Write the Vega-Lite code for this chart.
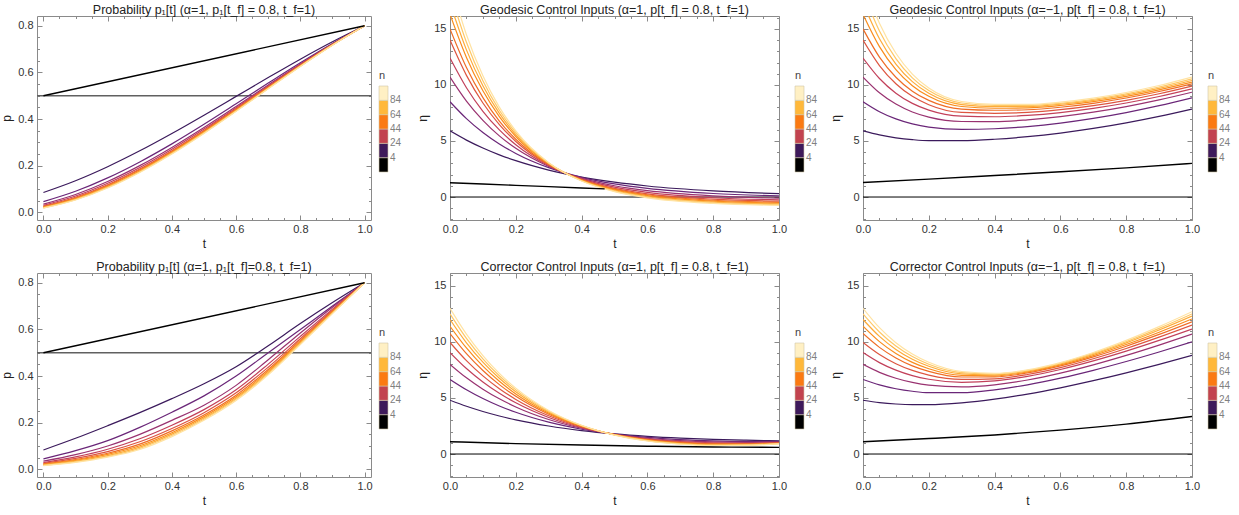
{
"$schema": "https://vega.github.io/schema/vega-lite/v6.json",
"padding": {"left": 0, "top": 3, "right": 5, "bottom": 5},
"config": {
 "font": "Liberation Sans",
 "view": {"stroke": "#8a8a8a", "strokeWidth": 1},
 "axis": {"domain": false, "tickColor": "#8a8a8a", "labelColor": "#333333", "labelFontSize": 11, "titleFontSize": 12, "titleFontWeight": "normal", "titleColor": "#222222", "grid": false, "labelOverlap": false, "labelFlush": false, "labelBound": false},
 "title": {"fontSize": 12.5, "fontWeight": "normal", "color": "#222222", "offset": -1},
 "legend": {"orient": "none", "type": "gradient", "direction": "vertical", "gradientLength": 86, "gradientThickness": 9, "labelFontSize": 10, "labelColor": "#808080", "titleFontSize": 11, "titleFontWeight": "normal", "titleColor": "#444444", "titlePadding": 5, "gradientStrokeColor": "#d0c8a8", "gradientStrokeWidth": 0.6, "labelOffset": 3}
},
"datasets": {
 "lg": [{"n":4},{"n":94}],
 "h1": [{"v":0.5}],
 "h0": [{"v":0}],
 "b1": [{"t":0,"v":0.5},{"t":1,"v":0.8}],
 "b2": [{"t":0,"v":1.28},{"t":0.1,"v":1.16},{"t":0.2,"v":1.04},{"t":0.3,"v":0.93},{"t":0.4,"v":0.81},{"t":0.47,"v":0.73}],
 "b3": [{"t":0,"v":1.3},{"t":0.2,"v":1.6},{"t":0.4,"v":1.92},{"t":0.6,"v":2.25},{"t":0.8,"v":2.6},{"t":1,"v":3.0}],
 "b5": [{"t":0,"v":1.1},{"t":0.2,"v":0.93},{"t":0.4,"v":0.8},{"t":0.6,"v":0.7},{"t":0.8,"v":0.63},{"t":1,"v":0.59}],
 "b6": [{"t":0,"v":1.1},{"t":0.2,"v":1.38},{"t":0.4,"v":1.7},{"t":0.6,"v":2.13},{"t":0.8,"v":2.67},{"t":1,"v":3.35}],
 "p1": [
{"n":4,"t":0,"v":0.085},{"n":4,"t":0.1,"v":0.1355},{"n":4,"t":0.2,"v":0.1956},{"n":4,"t":0.3,"v":0.2637},{"n":4,"t":0.4,"v":0.338},{"n":4,"t":0.5,"v":0.4165},{"n":4,"t":0.6,"v":0.4972},{"n":4,"t":0.7,"v":0.578},{"n":4,"t":0.8,"v":0.6568},{"n":4,"t":0.9,"v":0.7315},{"n":4,"t":1,"v":0.8},
{"n":14,"t":0,"v":0.046},{"n":14,"t":0.1,"v":0.0903},{"n":14,"t":0.2,"v":0.1476},{"n":14,"t":0.3,"v":0.2161},{"n":14,"t":0.4,"v":0.2935},{"n":14,"t":0.5,"v":0.3775},{"n":14,"t":0.6,"v":0.4654},{"n":14,"t":0.7,"v":0.5543},{"n":14,"t":0.8,"v":0.6416},{"n":14,"t":0.9,"v":0.7244},{"n":14,"t":1,"v":0.8},
{"n":24,"t":0,"v":0.035},{"n":24,"t":0.1,"v":0.0764},{"n":24,"t":0.2,"v":0.1321},{"n":24,"t":0.3,"v":0.2002},{"n":24,"t":0.4,"v":0.2784},{"n":24,"t":0.5,"v":0.364},{"n":24,"t":0.6,"v":0.4542},{"n":24,"t":0.7,"v":0.546},{"n":24,"t":0.8,"v":0.6362},{"n":24,"t":0.9,"v":0.7219},{"n":24,"t":1,"v":0.8},
{"n":34,"t":0,"v":0.03},{"n":34,"t":0.1,"v":0.0698},{"n":34,"t":0.2,"v":0.1246},{"n":34,"t":0.3,"v":0.1923},{"n":34,"t":0.4,"v":0.2708},{"n":34,"t":0.5,"v":0.3572},{"n":34,"t":0.6,"v":0.4486},{"n":34,"t":0.7,"v":0.5418},{"n":34,"t":0.8,"v":0.6335},{"n":34,"t":0.9,"v":0.7206},{"n":34,"t":1,"v":0.8},
{"n":44,"t":0,"v":0.026},{"n":44,"t":0.1,"v":0.0644},{"n":44,"t":0.2,"v":0.1182},{"n":44,"t":0.3,"v":0.1857},{"n":44,"t":0.4,"v":0.2644},{"n":44,"t":0.5,"v":0.3514},{"n":44,"t":0.6,"v":0.4438},{"n":44,"t":0.7,"v":0.5382},{"n":44,"t":0.8,"v":0.6312},{"n":44,"t":0.9,"v":0.7195},{"n":44,"t":1,"v":0.8},
{"n":54,"t":0,"v":0.024},{"n":54,"t":0.1,"v":0.0615},{"n":54,"t":0.2,"v":0.1149},{"n":54,"t":0.3,"v":0.1822},{"n":54,"t":0.4,"v":0.261},{"n":54,"t":0.5,"v":0.3484},{"n":54,"t":0.6,"v":0.4413},{"n":54,"t":0.7,"v":0.5363},{"n":54,"t":0.8,"v":0.6299},{"n":54,"t":0.9,"v":0.7189},{"n":54,"t":1,"v":0.8},
{"n":64,"t":0,"v":0.022},{"n":64,"t":0.1,"v":0.0587},{"n":64,"t":0.2,"v":0.1115},{"n":64,"t":0.3,"v":0.1786},{"n":64,"t":0.4,"v":0.2575},{"n":64,"t":0.5,"v":0.3452},{"n":64,"t":0.6,"v":0.4386},{"n":64,"t":0.7,"v":0.5342},{"n":64,"t":0.8,"v":0.6286},{"n":64,"t":0.9,"v":0.7183},{"n":64,"t":1,"v":0.8},
{"n":74,"t":0,"v":0.02},{"n":74,"t":0.1,"v":0.0558},{"n":74,"t":0.2,"v":0.1081},{"n":74,"t":0.3,"v":0.1749},{"n":74,"t":0.4,"v":0.2538},{"n":74,"t":0.5,"v":0.3419},{"n":74,"t":0.6,"v":0.4358},{"n":74,"t":0.7,"v":0.5322},{"n":74,"t":0.8,"v":0.6273},{"n":74,"t":0.9,"v":0.7177},{"n":74,"t":1,"v":0.8},
{"n":84,"t":0,"v":0.019},{"n":84,"t":0.1,"v":0.0543},{"n":84,"t":0.2,"v":0.1063},{"n":84,"t":0.3,"v":0.173},{"n":84,"t":0.4,"v":0.2519},{"n":84,"t":0.5,"v":0.3402},{"n":84,"t":0.6,"v":0.4344},{"n":84,"t":0.7,"v":0.5311},{"n":84,"t":0.8,"v":0.6266},{"n":84,"t":0.9,"v":0.7174},{"n":84,"t":1,"v":0.8},
{"n":94,"t":0,"v":0.018},{"n":94,"t":0.1,"v":0.0528},{"n":94,"t":0.2,"v":0.1044},{"n":94,"t":0.3,"v":0.171},{"n":94,"t":0.4,"v":0.25},{"n":94,"t":0.5,"v":0.3384},{"n":94,"t":0.6,"v":0.4329},{"n":94,"t":0.7,"v":0.53},{"n":94,"t":0.8,"v":0.6259},{"n":94,"t":0.9,"v":0.717},{"n":94,"t":1,"v":0.8}
 ],
 "p4": [
{"n":4,"t":0,"v":0.083},{"n":4,"t":0.1,"v":0.133},{"n":4,"t":0.2,"v":0.187},{"n":4,"t":0.3,"v":0.243},{"n":4,"t":0.4,"v":0.303},{"n":4,"t":0.5,"v":0.367},{"n":4,"t":0.6,"v":0.44},{"n":4,"t":0.7,"v":0.53},{"n":4,"t":0.8,"v":0.625},{"n":4,"t":0.9,"v":0.715},{"n":4,"t":1,"v":0.8},
{"n":14,"t":0,"v":0.045},{"n":14,"t":0.1,"v":0.08},{"n":14,"t":0.2,"v":0.123},{"n":14,"t":0.3,"v":0.18},{"n":14,"t":0.4,"v":0.245},{"n":14,"t":0.5,"v":0.315},{"n":14,"t":0.6,"v":0.4},{"n":14,"t":0.7,"v":0.5},{"n":14,"t":0.8,"v":0.6},{"n":14,"t":0.9,"v":0.7},{"n":14,"t":1,"v":0.8},
{"n":24,"t":0,"v":0.035},{"n":24,"t":0.1,"v":0.063},{"n":24,"t":0.2,"v":0.1},{"n":24,"t":0.3,"v":0.15},{"n":24,"t":0.4,"v":0.21},{"n":24,"t":0.5,"v":0.275},{"n":24,"t":0.6,"v":0.36},{"n":24,"t":0.7,"v":0.47},{"n":24,"t":0.8,"v":0.585},{"n":24,"t":0.9,"v":0.695},{"n":24,"t":1,"v":0.8},
{"n":34,"t":0,"v":0.029},{"n":34,"t":0.1,"v":0.053},{"n":34,"t":0.2,"v":0.086},{"n":34,"t":0.3,"v":0.131},{"n":34,"t":0.4,"v":0.189},{"n":34,"t":0.5,"v":0.256},{"n":34,"t":0.6,"v":0.341},{"n":34,"t":0.7,"v":0.451},{"n":34,"t":0.8,"v":0.57},{"n":34,"t":0.9,"v":0.687},{"n":34,"t":1,"v":0.8},
{"n":44,"t":0,"v":0.026},{"n":44,"t":0.1,"v":0.047},{"n":44,"t":0.2,"v":0.076},{"n":44,"t":0.3,"v":0.118},{"n":44,"t":0.4,"v":0.175},{"n":44,"t":0.5,"v":0.243},{"n":44,"t":0.6,"v":0.328},{"n":44,"t":0.7,"v":0.438},{"n":44,"t":0.8,"v":0.56},{"n":44,"t":0.9,"v":0.682},{"n":44,"t":1,"v":0.8},
{"n":54,"t":0,"v":0.023},{"n":54,"t":0.1,"v":0.042},{"n":54,"t":0.2,"v":0.069},{"n":54,"t":0.3,"v":0.108},{"n":54,"t":0.4,"v":0.165},{"n":54,"t":0.5,"v":0.233},{"n":54,"t":0.6,"v":0.318},{"n":54,"t":0.7,"v":0.428},{"n":54,"t":0.8,"v":0.553},{"n":54,"t":0.9,"v":0.678},{"n":54,"t":1,"v":0.8},
{"n":64,"t":0,"v":0.021},{"n":64,"t":0.1,"v":0.038},{"n":64,"t":0.2,"v":0.064},{"n":64,"t":0.3,"v":0.101},{"n":64,"t":0.4,"v":0.157},{"n":64,"t":0.5,"v":0.226},{"n":64,"t":0.6,"v":0.311},{"n":64,"t":0.7,"v":0.421},{"n":64,"t":0.8,"v":0.547},{"n":64,"t":0.9,"v":0.675},{"n":64,"t":1,"v":0.8},
{"n":74,"t":0,"v":0.019},{"n":74,"t":0.1,"v":0.035},{"n":74,"t":0.2,"v":0.059},{"n":74,"t":0.3,"v":0.095},{"n":74,"t":0.4,"v":0.151},{"n":74,"t":0.5,"v":0.22},{"n":74,"t":0.6,"v":0.305},{"n":74,"t":0.7,"v":0.415},{"n":74,"t":0.8,"v":0.543},{"n":74,"t":0.9,"v":0.672},{"n":74,"t":1,"v":0.8},
{"n":84,"t":0,"v":0.017},{"n":84,"t":0.1,"v":0.032},{"n":84,"t":0.2,"v":0.055},{"n":84,"t":0.3,"v":0.09},{"n":84,"t":0.4,"v":0.145},{"n":84,"t":0.5,"v":0.215},{"n":84,"t":0.6,"v":0.3},{"n":84,"t":0.7,"v":0.41},{"n":84,"t":0.8,"v":0.539},{"n":84,"t":0.9,"v":0.67},{"n":84,"t":1,"v":0.8},
{"n":94,"t":0,"v":0.016},{"n":94,"t":0.1,"v":0.03},{"n":94,"t":0.2,"v":0.052},{"n":94,"t":0.3,"v":0.085},{"n":94,"t":0.4,"v":0.14},{"n":94,"t":0.5,"v":0.21},{"n":94,"t":0.6,"v":0.295},{"n":94,"t":0.7,"v":0.405},{"n":94,"t":0.8,"v":0.535},{"n":94,"t":0.9,"v":0.668},{"n":94,"t":1,"v":0.8}
 ],
 "p2": [
{"n":4,"t":0,"v":5.9},{"n":4,"t":0.05,"v":5.079},{"n":4,"t":0.1,"v":4.373},{"n":4,"t":0.15,"v":3.764},{"n":4,"t":0.2,"v":3.241},{"n":4,"t":0.3,"v":2.403},{"n":4,"t":0.4,"v":1.782},{"n":4,"t":0.5,"v":1.322},{"n":4,"t":0.6,"v":0.981},{"n":4,"t":0.8,"v":0.542},{"n":4,"t":1,"v":0.3},
{"n":14,"t":0,"v":8.5},{"n":14,"t":0.05,"v":6.997},{"n":14,"t":0.1,"v":5.758},{"n":14,"t":0.15,"v":4.735},{"n":14,"t":0.2,"v":3.891},{"n":14,"t":0.3,"v":2.621},{"n":14,"t":0.4,"v":1.757},{"n":14,"t":0.5,"v":1.169},{"n":14,"t":0.6,"v":0.769},{"n":14,"t":0.8,"v":0.312},{"n":14,"t":1,"v":0.1},
{"n":24,"t":0,"v":10.7},{"n":24,"t":0.05,"v":8.561},{"n":24,"t":0.1,"v":6.841},{"n":24,"t":0.15,"v":5.456},{"n":24,"t":0.2,"v":4.344},{"n":24,"t":0.3,"v":2.727},{"n":24,"t":0.4,"v":1.68},{"n":24,"t":0.5,"v":1.003},{"n":24,"t":0.6,"v":0.564},{"n":24,"t":0.8,"v":0.097},{"n":24,"t":1,"v":-0.099},
{"n":34,"t":0,"v":12.4},{"n":34,"t":0.05,"v":9.751},{"n":34,"t":0.1,"v":7.651},{"n":34,"t":0.15,"v":5.986},{"n":34,"t":0.2,"v":4.668},{"n":34,"t":0.3,"v":2.793},{"n":34,"t":0.4,"v":1.617},{"n":34,"t":0.5,"v":0.877},{"n":34,"t":0.6,"v":0.412},{"n":34,"t":0.8,"v":-0.063},{"n":34,"t":1,"v":-0.25},
{"n":44,"t":0,"v":14.0},{"n":44,"t":0.05,"v":10.854},{"n":44,"t":0.1,"v":8.391},{"n":44,"t":0.15,"v":6.464},{"n":44,"t":0.2,"v":4.956},{"n":44,"t":0.3,"v":2.851},{"n":44,"t":0.4,"v":1.562},{"n":44,"t":0.5,"v":0.771},{"n":44,"t":0.6,"v":0.288},{"n":44,"t":0.8,"v":-0.191},{"n":44,"t":1,"v":-0.37},
{"n":54,"t":0,"v":15.0},{"n":54,"t":0.05,"v":11.555},{"n":54,"t":0.1,"v":8.871},{"n":54,"t":0.15,"v":6.782},{"n":54,"t":0.2,"v":5.155},{"n":54,"t":0.3,"v":2.9},{"n":54,"t":0.4,"v":1.532},{"n":54,"t":0.5,"v":0.704},{"n":54,"t":0.6,"v":0.201},{"n":54,"t":0.8,"v":-0.29},{"n":54,"t":1,"v":-0.47},
{"n":64,"t":0,"v":16.3},{"n":64,"t":0.05,"v":12.453},{"n":64,"t":0.1,"v":9.478},{"n":64,"t":0.15,"v":7.18},{"n":64,"t":0.2,"v":5.402},{"n":64,"t":0.3,"v":2.967},{"n":64,"t":0.4,"v":1.513},{"n":64,"t":0.5,"v":0.643},{"n":64,"t":0.6,"v":0.123},{"n":64,"t":0.8,"v":-0.373},{"n":64,"t":1,"v":-0.55},
{"n":74,"t":0,"v":17.3},{"n":74,"t":0.05,"v":13.128},{"n":74,"t":0.1,"v":9.922},{"n":74,"t":0.15,"v":7.458},{"n":74,"t":0.2,"v":5.565},{"n":74,"t":0.3,"v":2.994},{"n":74,"t":0.4,"v":1.476},{"n":74,"t":0.5,"v":0.579},{"n":74,"t":0.6,"v":0.049},{"n":74,"t":0.8,"v":-0.447},{"n":74,"t":1,"v":-0.62},
{"n":84,"t":0,"v":18.3},{"n":84,"t":0.05,"v":13.802},{"n":84,"t":0.1,"v":10.366},{"n":84,"t":0.15,"v":7.741},{"n":84,"t":0.2,"v":5.735},{"n":84,"t":0.3,"v":3.029},{"n":84,"t":0.4,"v":1.449},{"n":84,"t":0.5,"v":0.528},{"n":84,"t":0.6,"v":-0.012},{"n":84,"t":0.8,"v":-0.509},{"n":84,"t":1,"v":-0.679},
{"n":94,"t":0,"v":19.3},{"n":94,"t":0.05,"v":14.479},{"n":94,"t":0.1,"v":10.811},{"n":94,"t":0.15,"v":8.024},{"n":94,"t":0.2,"v":5.903},{"n":94,"t":0.3,"v":3.066},{"n":94,"t":0.4,"v":1.426},{"n":94,"t":0.5,"v":0.478},{"n":94,"t":0.6,"v":-0.071},{"n":94,"t":0.8,"v":-0.571},{"n":94,"t":1,"v":-0.738}
 ],
 "p3": [
{"n":4,"t":0,"v":5.9},{"n":4,"t":0.05,"v":5.539},{"n":4,"t":0.1,"v":5.284},{"n":4,"t":0.15,"v":5.118},{"n":4,"t":0.2,"v":5.029},{"n":4,"t":0.3,"v":5.033},{"n":4,"t":0.4,"v":5.156},{"n":4,"t":0.5,"v":5.383},{"n":4,"t":0.6,"v":5.705},{"n":4,"t":0.7,"v":6.117},{"n":4,"t":0.8,"v":6.615},{"n":4,"t":0.9,"v":7.193},{"n":4,"t":1,"v":7.85},
{"n":14,"t":0,"v":8.5},{"n":14,"t":0.05,"v":7.611},{"n":14,"t":0.1,"v":6.968},{"n":14,"t":0.15,"v":6.522},{"n":14,"t":0.2,"v":6.237},{"n":14,"t":0.3,"v":6.028},{"n":14,"t":0.4,"v":6.09},{"n":14,"t":0.5,"v":6.288},{"n":14,"t":0.6,"v":6.601},{"n":14,"t":0.7,"v":7.019},{"n":14,"t":0.8,"v":7.536},{"n":14,"t":0.9,"v":8.148},{"n":14,"t":1,"v":8.85},
{"n":24,"t":0,"v":10.7},{"n":24,"t":0.05,"v":9.299},{"n":24,"t":0.1,"v":8.29},{"n":24,"t":0.15,"v":7.587},{"n":24,"t":0.2,"v":7.129},{"n":24,"t":0.3,"v":6.737},{"n":24,"t":0.4,"v":6.726},{"n":24,"t":0.5,"v":6.889},{"n":24,"t":0.6,"v":7.174},{"n":24,"t":0.7,"v":7.569},{"n":24,"t":0.8,"v":8.067},{"n":24,"t":0.9,"v":8.662},{"n":24,"t":1,"v":9.35},
{"n":34,"t":0,"v":12.4},{"n":34,"t":0.05,"v":10.575},{"n":34,"t":0.1,"v":9.264},{"n":34,"t":0.15,"v":8.353},{"n":34,"t":0.2,"v":7.756},{"n":34,"t":0.3,"v":7.217},{"n":34,"t":0.4,"v":7.16},{"n":34,"t":0.5,"v":7.28},{"n":34,"t":0.6,"v":7.537},{"n":34,"t":0.7,"v":7.91},{"n":34,"t":0.8,"v":8.39},{"n":34,"t":0.9,"v":8.97},{"n":34,"t":1,"v":9.65},
{"n":44,"t":0,"v":14.0},{"n":44,"t":0.05,"v":11.732},{"n":44,"t":0.1,"v":10.108},{"n":44,"t":0.15,"v":8.982},{"n":44,"t":0.2,"v":8.238},{"n":44,"t":0.3,"v":7.543},{"n":44,"t":0.4,"v":7.47},{"n":44,"t":0.5,"v":7.547},{"n":44,"t":0.6,"v":7.789},{"n":44,"t":0.7,"v":8.154},{"n":44,"t":0.8,"v":8.63},{"n":44,"t":0.9,"v":9.214},{"n":44,"t":1,"v":9.9},
{"n":54,"t":0,"v":15.0},{"n":54,"t":0.05,"v":12.485},{"n":54,"t":0.1,"v":10.688},{"n":54,"t":0.15,"v":9.444},{"n":54,"t":0.2,"v":8.619},{"n":54,"t":0.3,"v":7.844},{"n":54,"t":0.4,"v":7.74},{"n":54,"t":0.5,"v":7.787},{"n":54,"t":0.6,"v":8.01},{"n":54,"t":0.7,"v":8.362},{"n":54,"t":0.8,"v":8.832},{"n":54,"t":0.9,"v":9.413},{"n":54,"t":1,"v":10.1},
{"n":64,"t":0,"v":16.3},{"n":64,"t":0.05,"v":13.416},{"n":64,"t":0.1,"v":11.358},{"n":64,"t":0.15,"v":9.934},{"n":64,"t":0.2,"v":8.984},{"n":64,"t":0.3,"v":8.075},{"n":64,"t":0.4,"v":7.92},{"n":64,"t":0.5,"v":7.954},{"n":64,"t":0.6,"v":8.166},{"n":64,"t":0.7,"v":8.512},{"n":64,"t":0.8,"v":8.98},{"n":64,"t":0.9,"v":9.561},{"n":64,"t":1,"v":10.25},
{"n":74,"t":0,"v":17.3},{"n":74,"t":0.05,"v":14.119},{"n":74,"t":0.1,"v":11.857},{"n":74,"t":0.15,"v":10.292},{"n":74,"t":0.2,"v":9.251},{"n":74,"t":0.3,"v":8.245},{"n":74,"t":0.4,"v":8.06},{"n":74,"t":0.5,"v":8.072},{"n":74,"t":0.6,"v":8.279},{"n":74,"t":0.7,"v":8.626},{"n":74,"t":0.8,"v":9.1},{"n":74,"t":0.9,"v":9.693},{"n":74,"t":1,"v":10.4},
{"n":84,"t":0,"v":18.3},{"n":84,"t":0.05,"v":14.814},{"n":84,"t":0.1,"v":12.342},{"n":84,"t":0.15,"v":10.634},{"n":84,"t":0.2,"v":9.498},{"n":84,"t":0.3,"v":8.389},{"n":84,"t":0.4,"v":8.17},{"n":84,"t":0.5,"v":8.162},{"n":84,"t":0.6,"v":8.363},{"n":84,"t":0.7,"v":8.715},{"n":84,"t":0.8,"v":9.203},{"n":84,"t":0.9,"v":9.816},{"n":84,"t":1,"v":10.55},
{"n":94,"t":0,"v":19.3},{"n":94,"t":0.05,"v":15.509},{"n":94,"t":0.1,"v":12.823},{"n":94,"t":0.15,"v":10.969},{"n":94,"t":0.2,"v":9.733},{"n":94,"t":0.3,"v":8.521},{"n":94,"t":0.4,"v":8.27},{"n":94,"t":0.5,"v":8.263},{"n":94,"t":0.6,"v":8.468},{"n":94,"t":0.7,"v":8.827},{"n":94,"t":0.8,"v":9.325},{"n":94,"t":0.9,"v":9.951},{"n":94,"t":1,"v":10.7}
 ],
 "p5": [
{"n":4,"t":0,"v":4.8},{"n":4,"t":0.05,"v":4.258},{"n":4,"t":0.1,"v":3.793},{"n":4,"t":0.15,"v":3.393},{"n":4,"t":0.2,"v":3.049},{"n":4,"t":0.3,"v":2.5},{"n":4,"t":0.4,"v":2.095},{"n":4,"t":0.5,"v":1.798},{"n":4,"t":0.6,"v":1.582},{"n":4,"t":0.7,"v":1.424},{"n":4,"t":0.8,"v":1.312},{"n":4,"t":0.9,"v":1.233},{"n":4,"t":1,"v":1.18},
{"n":14,"t":0,"v":6.65},{"n":14,"t":0.05,"v":5.732},{"n":14,"t":0.1,"v":4.951},{"n":14,"t":0.15,"v":4.286},{"n":14,"t":0.2,"v":3.722},{"n":14,"t":0.3,"v":2.84},{"n":14,"t":0.4,"v":2.213},{"n":14,"t":0.5,"v":1.775},{"n":14,"t":0.6,"v":1.478},{"n":14,"t":0.7,"v":1.286},{"n":14,"t":0.8,"v":1.174},{"n":14,"t":0.9,"v":1.123},{"n":14,"t":1,"v":1.12},
{"n":24,"t":0,"v":8.0},{"n":24,"t":0.05,"v":6.8},{"n":24,"t":0.1,"v":5.785},{"n":24,"t":0.15,"v":4.927},{"n":24,"t":0.2,"v":4.202},{"n":24,"t":0.3,"v":3.08},{"n":24,"t":0.4,"v":2.296},{"n":24,"t":0.5,"v":1.759},{"n":24,"t":0.6,"v":1.407},{"n":24,"t":0.7,"v":1.19},{"n":24,"t":0.8,"v":1.077},{"n":24,"t":0.9,"v":1.043},{"n":24,"t":1,"v":1.07},
{"n":34,"t":0,"v":9.05},{"n":34,"t":0.05,"v":7.626},{"n":34,"t":0.1,"v":6.426},{"n":34,"t":0.15,"v":5.415},{"n":34,"t":0.2,"v":4.567},{"n":34,"t":0.3,"v":3.26},{"n":34,"t":0.4,"v":2.358},{"n":34,"t":0.5,"v":1.747},{"n":34,"t":0.6,"v":1.353},{"n":34,"t":0.7,"v":1.119},{"n":34,"t":0.8,"v":1.005},{"n":34,"t":0.9,"v":0.981},{"n":34,"t":1,"v":1.03},
{"n":44,"t":0,"v":9.95},{"n":44,"t":0.05,"v":8.331},{"n":44,"t":0.1,"v":6.97},{"n":44,"t":0.15,"v":5.828},{"n":44,"t":0.2,"v":4.873},{"n":44,"t":0.3,"v":3.411},{"n":44,"t":0.4,"v":2.409},{"n":44,"t":0.5,"v":1.738},{"n":44,"t":0.6,"v":1.31},{"n":44,"t":0.7,"v":1.063},{"n":44,"t":0.8,"v":0.948},{"n":44,"t":0.9,"v":0.935},{"n":44,"t":1,"v":1.0},
{"n":54,"t":0,"v":10.75},{"n":54,"t":0.05,"v":8.956},{"n":54,"t":0.1,"v":7.451},{"n":54,"t":0.15,"v":6.193},{"n":54,"t":0.2,"v":5.144},{"n":54,"t":0.3,"v":3.543},{"n":54,"t":0.4,"v":2.454},{"n":54,"t":0.5,"v":1.73},{"n":54,"t":0.6,"v":1.274},{"n":54,"t":0.7,"v":1.014},{"n":54,"t":0.8,"v":0.9},{"n":54,"t":0.9,"v":0.897},{"n":54,"t":1,"v":0.98},
{"n":64,"t":0,"v":11.4},{"n":64,"t":0.05,"v":9.46},{"n":64,"t":0.1,"v":7.838},{"n":64,"t":0.15,"v":6.485},{"n":64,"t":0.2,"v":5.358},{"n":64,"t":0.3,"v":3.647},{"n":64,"t":0.4,"v":2.487},{"n":64,"t":0.5,"v":1.723},{"n":64,"t":0.6,"v":1.245},{"n":64,"t":0.7,"v":0.976},{"n":64,"t":0.8,"v":0.862},{"n":64,"t":0.9,"v":0.866},{"n":64,"t":1,"v":0.96},
{"n":74,"t":0,"v":12.0},{"n":74,"t":0.05,"v":9.925},{"n":74,"t":0.1,"v":8.195},{"n":74,"t":0.15,"v":6.754},{"n":74,"t":0.2,"v":5.555},{"n":74,"t":0.3,"v":3.742},{"n":74,"t":0.4,"v":2.519},{"n":74,"t":0.5,"v":1.716},{"n":74,"t":0.6,"v":1.217},{"n":74,"t":0.7,"v":0.94},{"n":74,"t":0.8,"v":0.827},{"n":74,"t":0.9,"v":0.836},{"n":74,"t":1,"v":0.94},
{"n":84,"t":0,"v":12.5},{"n":84,"t":0.05,"v":10.314},{"n":84,"t":0.1,"v":8.493},{"n":84,"t":0.15,"v":6.978},{"n":84,"t":0.2,"v":5.722},{"n":84,"t":0.3,"v":3.824},{"n":84,"t":0.4,"v":2.547},{"n":84,"t":0.5,"v":1.712},{"n":84,"t":0.6,"v":1.195},{"n":84,"t":0.7,"v":0.91},{"n":84,"t":0.8,"v":0.795},{"n":84,"t":0.9,"v":0.808},{"n":84,"t":1,"v":0.92},
{"n":94,"t":0,"v":13.0},{"n":94,"t":0.05,"v":10.698},{"n":94,"t":0.1,"v":8.783},{"n":94,"t":0.15,"v":7.192},{"n":94,"t":0.2,"v":5.876},{"n":94,"t":0.3,"v":3.891},{"n":94,"t":0.4,"v":2.56},{"n":94,"t":0.5,"v":1.693},{"n":94,"t":0.6,"v":1.16},{"n":94,"t":0.7,"v":0.87},{"n":94,"t":0.8,"v":0.756},{"n":94,"t":0.9,"v":0.777},{"n":94,"t":1,"v":0.9}
 ],
 "p6": [
{"n":4,"t":0,"v":4.8},{"n":4,"t":0.05,"v":4.59},{"n":4,"t":0.1,"v":4.462},{"n":4,"t":0.15,"v":4.405},{"n":4,"t":0.2,"v":4.408},{"n":4,"t":0.3,"v":4.57},{"n":4,"t":0.4,"v":4.896},{"n":4,"t":0.5,"v":5.351},{"n":4,"t":0.6,"v":5.907},{"n":4,"t":0.7,"v":6.542},{"n":4,"t":0.8,"v":7.243},{"n":4,"t":0.9,"v":7.998},{"n":4,"t":1,"v":8.8},
{"n":14,"t":0,"v":6.65},{"n":14,"t":0.05,"v":6.168},{"n":14,"t":0.1,"v":5.825},{"n":14,"t":0.15,"v":5.598},{"n":14,"t":0.2,"v":5.472},{"n":14,"t":0.3,"v":5.47},{"n":14,"t":0.4,"v":5.727},{"n":14,"t":0.5,"v":6.175},{"n":14,"t":0.6,"v":6.768},{"n":14,"t":0.7,"v":7.468},{"n":14,"t":0.8,"v":8.252},{"n":14,"t":0.9,"v":9.101},{"n":14,"t":1,"v":10.0},
{"n":24,"t":0,"v":8.0},{"n":24,"t":0.05,"v":7.287},{"n":24,"t":0.1,"v":6.759},{"n":24,"t":0.15,"v":6.386},{"n":24,"t":0.2,"v":6.147},{"n":24,"t":0.3,"v":5.994},{"n":24,"t":0.4,"v":6.177},{"n":24,"t":0.5,"v":6.604},{"n":24,"t":0.6,"v":7.213},{"n":24,"t":0.7,"v":7.956},{"n":24,"t":0.8,"v":8.8},{"n":24,"t":0.9,"v":9.721},{"n":24,"t":1,"v":10.7},
{"n":34,"t":0,"v":9.05},{"n":34,"t":0.05,"v":8.156},{"n":34,"t":0.1,"v":7.483},{"n":34,"t":0.15,"v":6.996},{"n":34,"t":0.2,"v":6.67},{"n":34,"t":0.3,"v":6.4},{"n":34,"t":0.4,"v":6.525},{"n":34,"t":0.5,"v":6.931},{"n":34,"t":0.6,"v":7.544},{"n":34,"t":0.7,"v":8.307},{"n":34,"t":0.8,"v":9.18},{"n":34,"t":0.9,"v":10.134},{"n":34,"t":1,"v":11.15},
{"n":44,"t":0,"v":9.95},{"n":44,"t":0.05,"v":8.876},{"n":44,"t":0.1,"v":8.059},{"n":44,"t":0.15,"v":7.457},{"n":44,"t":0.2,"v":7.042},{"n":44,"t":0.3,"v":6.651},{"n":44,"t":0.4,"v":6.712},{"n":44,"t":0.5,"v":7.096},{"n":44,"t":0.6,"v":7.713},{"n":44,"t":0.7,"v":8.503},{"n":44,"t":0.8,"v":9.416},{"n":44,"t":0.9,"v":10.424},{"n":44,"t":1,"v":11.5},
{"n":54,"t":0,"v":10.75},{"n":54,"t":0.05,"v":9.515},{"n":54,"t":0.1,"v":8.568},{"n":54,"t":0.15,"v":7.865},{"n":54,"t":0.2,"v":7.37},{"n":54,"t":0.3,"v":6.87},{"n":54,"t":0.4,"v":6.874},{"n":54,"t":0.5,"v":7.236},{"n":54,"t":0.6,"v":7.859},{"n":54,"t":0.7,"v":8.669},{"n":54,"t":0.8,"v":9.618},{"n":54,"t":0.9,"v":10.669},{"n":54,"t":1,"v":11.8},
{"n":64,"t":0,"v":11.4},{"n":64,"t":0.05,"v":10.025},{"n":64,"t":0.1,"v":8.967},{"n":64,"t":0.15,"v":8.176},{"n":64,"t":0.2,"v":7.611},{"n":64,"t":0.3,"v":7.02},{"n":64,"t":0.4,"v":6.976},{"n":64,"t":0.5,"v":7.323},{"n":64,"t":0.6,"v":7.951},{"n":64,"t":0.7,"v":8.785},{"n":64,"t":0.8,"v":9.769},{"n":64,"t":0.9,"v":10.867},{"n":64,"t":1,"v":12.05},
{"n":74,"t":0,"v":12.0},{"n":74,"t":0.05,"v":10.493},{"n":74,"t":0.1,"v":9.331},{"n":74,"t":0.15,"v":8.458},{"n":74,"t":0.2,"v":7.827},{"n":74,"t":0.3,"v":7.15},{"n":74,"t":0.4,"v":7.063},{"n":74,"t":0.5,"v":7.396},{"n":74,"t":0.6,"v":8.033},{"n":74,"t":0.7,"v":8.892},{"n":74,"t":0.8,"v":9.915},{"n":74,"t":0.9,"v":11.06},{"n":74,"t":1,"v":12.3},
{"n":84,"t":0,"v":12.5},{"n":84,"t":0.05,"v":10.885},{"n":84,"t":0.1,"v":9.635},{"n":84,"t":0.15,"v":8.692},{"n":84,"t":0.2,"v":8.009},{"n":84,"t":0.3,"v":7.26},{"n":84,"t":0.4,"v":7.136},{"n":84,"t":0.5,"v":7.457},{"n":84,"t":0.6,"v":8.099},{"n":84,"t":0.7,"v":8.978},{"n":84,"t":0.8,"v":10.03},{"n":84,"t":0.9,"v":11.214},{"n":84,"t":1,"v":12.5},
{"n":94,"t":0,"v":13.0},{"n":94,"t":0.05,"v":11.272},{"n":94,"t":0.1,"v":9.932},{"n":94,"t":0.15,"v":8.919},{"n":94,"t":0.2,"v":8.182},{"n":94,"t":0.3,"v":7.36},{"n":94,"t":0.4,"v":7.199},{"n":94,"t":0.5,"v":7.509},{"n":94,"t":0.6,"v":8.159},{"n":94,"t":0.7,"v":9.059},{"n":94,"t":0.8,"v":10.142},{"n":94,"t":0.9,"v":11.367},{"n":94,"t":1,"v":12.7}
 ]
},
"columns": 3,
"align": "all",
"bounds": "flush",
"spacing": {"row": 53, "column": 79},
"resolve": {"scale": {"fill": "independent"}, "legend": {"fill": "independent"}},
"concat": [
 {
  "width": 334, "height": 204,
  "title": "Probability p₁[t] (α=1, p₁[t_f] = 0.8, t_f=1)",
  "layer": [
   {"data": {"name": "h1"}, "mark": {"type": "rule", "color": "#606060", "strokeWidth": 1.6}, "encoding": {"y": {"field": "v", "type": "quantitative", "axis": null}}},
   {"data": {"name": "p1"}, "mark": {"type": "line", "clip": true, "strokeWidth": 1.2, "interpolate": "monotone"},
    "encoding": {
     "x": {"field": "t", "type": "quantitative", "scale": {"domain": [-0.02, 1.02], "nice": false, "zero": false}, "axis": {"orient": "bottom", "title": "t", "values": [0,0.2,0.4,0.6,0.8,1], "format": ".1f", "offset": -5, "tickSize": 5, "labelPadding": 3}},
     "y": {"field": "v", "type": "quantitative", "scale": {"domain": [-0.033, 0.842], "nice": false, "zero": false}, "axis": {"orient": "left", "title": "p", "values": [0,0.2,0.4,0.6,0.8], "format": ".1f", "offset": -5, "tickSize": 5, "labelPadding": 4}},
     "stroke": {"field": "n", "type": "ordinal", "scale": {"domain": [4,14,24,34,44,54,64,74,84,94], "range": ["#3b1a5c","#6a2678","#993270","#c2405a","#dd5540","#ef6d25","#f98c1c","#fdab38","#fec866","#ffe3a3"]}, "legend": null}
    }},
   {"data": {"name": "b1"}, "mark": {"type": "line", "clip": true, "color": "#000000", "strokeWidth": 1.4},
    "encoding": {
     "x": {"field": "t", "type": "quantitative", "scale": {"domain": [-0.02, 1.02], "nice": false, "zero": false}, "axis": {"orient": "top", "title": null, "labels": false, "values": [0,0.2,0.4,0.6,0.8,1], "offset": -5, "tickSize": 5}},
     "y": {"field": "v", "type": "quantitative", "scale": {"domain": [-0.033, 0.842], "nice": false, "zero": false}, "axis": {"orient": "right", "title": null, "labels": false, "values": [0,0.2,0.4,0.6,0.8], "offset": -5, "tickSize": 5}}
    }},
   {"data": {"name": "b1"}, "mark": {"type": "line", "opacity": 0},
    "encoding": {
     "x": {"field": "t", "type": "quantitative", "scale": {"domain": [-0.02, 1.02], "nice": false, "zero": false}, "axis": {"orient": "bottom", "title": null, "labels": false, "values": [0.05,0.1,0.15,0.25,0.3,0.35,0.45,0.5,0.55,0.65,0.7,0.75,0.85,0.9,0.95], "offset": -2.5, "tickSize": 2.5}},
     "y": {"field": "v", "type": "quantitative", "scale": {"domain": [-0.033, 0.842], "nice": false, "zero": false}, "axis": {"orient": "left", "title": null, "labels": false, "values": [0.05,0.1,0.15,0.25,0.3,0.35,0.45,0.5,0.55,0.65,0.7,0.75], "offset": -2.5, "tickSize": 2.5}}
    }},
   {"data": {"name": "b1"}, "mark": {"type": "line", "opacity": 0},
    "encoding": {
     "x": {"field": "t", "type": "quantitative", "scale": {"domain": [-0.02, 1.02], "nice": false, "zero": false}, "axis": {"orient": "top", "title": null, "labels": false, "values": [0.05,0.1,0.15,0.25,0.3,0.35,0.45,0.5,0.55,0.65,0.7,0.75,0.85,0.9,0.95], "offset": -2.5, "tickSize": 2.5}},
     "y": {"field": "v", "type": "quantitative", "scale": {"domain": [-0.033, 0.842], "nice": false, "zero": false}, "axis": {"orient": "right", "title": null, "labels": false, "values": [0.05,0.1,0.15,0.25,0.3,0.35,0.45,0.5,0.55,0.65,0.7,0.75], "offset": -2.5, "tickSize": 2.5}}
    }},
   {"data": {"name": "lg"}, "mark": {"type": "point", "filled": true, "size": 0},
    "encoding": {"fill": {"field": "n", "type": "quantitative", "scale": {"type": "threshold", "domain": [4,24,44,64,84], "range": ["#000000","#3e1a5b","#c2434f","#fb7a12","#ffb83a","#fff0c4"]}, "legend": {"title": "n", "legendX": 342, "legendY": 54}}}}
  ],
  "resolve": {"axis": {"x": "independent", "y": "independent"}}
 },
 {
  "width": 329, "height": 204,
  "title": "Geodesic Control Inputs (α=1, p[t_f] = 0.8, t_f=1)",
  "layer": [
   {"data": {"name": "h0"}, "mark": {"type": "rule", "color": "#000000", "strokeWidth": 1}, "encoding": {"y": {"field": "v", "type": "quantitative", "axis": null}}},
   {"data": {"name": "p2"}, "mark": {"type": "line", "clip": true, "strokeWidth": 1.2, "interpolate": "monotone"},
    "encoding": {
     "x": {"field": "t", "type": "quantitative", "scale": {"domain": [0, 1], "nice": false, "zero": false}, "axis": {"orient": "bottom", "title": "t", "values": [0,0.2,0.4,0.6,0.8,1], "format": ".1f", "offset": -5, "tickSize": 5, "labelPadding": 3}},
     "y": {"field": "v", "type": "quantitative", "scale": {"domain": [-2.05, 16.15], "nice": false, "zero": false}, "axis": {"orient": "left", "title": "η", "values": [0,5,10,15], "format": "d", "offset": -5, "tickSize": 5, "labelPadding": 4}},
     "stroke": {"field": "n", "type": "ordinal", "scale": {"domain": [4,14,24,34,44,54,64,74,84,94], "range": ["#3b1a5c","#6a2678","#993270","#c2405a","#dd5540","#ef6d25","#f98c1c","#fdab38","#fec866","#ffe3a3"]}, "legend": null}
    }},
   {"data": {"name": "b2"}, "mark": {"type": "line", "clip": true, "color": "#000000", "strokeWidth": 1.4},
    "encoding": {
     "x": {"field": "t", "type": "quantitative", "scale": {"domain": [0, 1], "nice": false, "zero": false}, "axis": {"orient": "top", "title": null, "labels": false, "values": [0,0.2,0.4,0.6,0.8,1], "offset": -5, "tickSize": 5}},
     "y": {"field": "v", "type": "quantitative", "scale": {"domain": [-2.05, 16.15], "nice": false, "zero": false}, "axis": {"orient": "right", "title": null, "labels": false, "values": [0,5,10,15], "offset": -5, "tickSize": 5}}
    }},
   {"data": {"name": "b2"}, "mark": {"type": "line", "opacity": 0},
    "encoding": {
     "x": {"field": "t", "type": "quantitative", "scale": {"domain": [0, 1], "nice": false, "zero": false}, "axis": {"orient": "bottom", "title": null, "labels": false, "values": [0.05,0.1,0.15,0.25,0.3,0.35,0.45,0.5,0.55,0.65,0.7,0.75,0.85,0.9,0.95], "offset": -2.5, "tickSize": 2.5}},
     "y": {"field": "v", "type": "quantitative", "scale": {"domain": [-2.05, 16.15], "nice": false, "zero": false}, "axis": {"orient": "left", "title": null, "labels": false, "values": [-2,-1,1,2,3,4,6,7,8,9,11,12,13,14,16], "offset": -2.5, "tickSize": 2.5}}
    }},
   {"data": {"name": "b2"}, "mark": {"type": "line", "opacity": 0},
    "encoding": {
     "x": {"field": "t", "type": "quantitative", "scale": {"domain": [0, 1], "nice": false, "zero": false}, "axis": {"orient": "top", "title": null, "labels": false, "values": [0.05,0.1,0.15,0.25,0.3,0.35,0.45,0.5,0.55,0.65,0.7,0.75,0.85,0.9,0.95], "offset": -2.5, "tickSize": 2.5}},
     "y": {"field": "v", "type": "quantitative", "scale": {"domain": [-2.05, 16.15], "nice": false, "zero": false}, "axis": {"orient": "right", "title": null, "labels": false, "values": [-2,-1,1,2,3,4,6,7,8,9,11,12,13,14,16], "offset": -2.5, "tickSize": 2.5}}
    }},
   {"data": {"name": "lg"}, "mark": {"type": "point", "filled": true, "size": 0},
    "encoding": {"fill": {"field": "n", "type": "quantitative", "scale": {"type": "threshold", "domain": [4,24,44,64,84], "range": ["#000000","#3e1a5b","#c2434f","#fb7a12","#ffb83a","#fff0c4"]}, "legend": {"title": "n", "legendX": 345, "legendY": 54}}}}
  ],
  "resolve": {"axis": {"x": "independent", "y": "independent"}}
 },
 {
  "width": 329, "height": 204,
  "title": "Geodesic Control Inputs (α=−1, p[t_f] = 0.8, t_f=1)",
  "layer": [
   {"data": {"name": "h0"}, "mark": {"type": "rule", "color": "#000000", "strokeWidth": 1}, "encoding": {"y": {"field": "v", "type": "quantitative", "axis": null}}},
   {"data": {"name": "p3"}, "mark": {"type": "line", "clip": true, "strokeWidth": 1.2, "interpolate": "monotone"},
    "encoding": {
     "x": {"field": "t", "type": "quantitative", "scale": {"domain": [0, 1], "nice": false, "zero": false}, "axis": {"orient": "bottom", "title": "t", "values": [0,0.2,0.4,0.6,0.8,1], "format": ".1f", "offset": -5, "tickSize": 5, "labelPadding": 3}},
     "y": {"field": "v", "type": "quantitative", "scale": {"domain": [-2.05, 16.15], "nice": false, "zero": false}, "axis": {"orient": "left", "title": "η", "values": [0,5,10,15], "format": "d", "offset": -5, "tickSize": 5, "labelPadding": 4}},
     "stroke": {"field": "n", "type": "ordinal", "scale": {"domain": [4,14,24,34,44,54,64,74,84,94], "range": ["#3b1a5c","#6a2678","#993270","#c2405a","#dd5540","#ef6d25","#f98c1c","#fdab38","#fec866","#ffe3a3"]}, "legend": null}
    }},
   {"data": {"name": "b3"}, "mark": {"type": "line", "clip": true, "color": "#000000", "strokeWidth": 1.4, "interpolate": "monotone"},
    "encoding": {
     "x": {"field": "t", "type": "quantitative", "scale": {"domain": [0, 1], "nice": false, "zero": false}, "axis": {"orient": "top", "title": null, "labels": false, "values": [0,0.2,0.4,0.6,0.8,1], "offset": -5, "tickSize": 5}},
     "y": {"field": "v", "type": "quantitative", "scale": {"domain": [-2.05, 16.15], "nice": false, "zero": false}, "axis": {"orient": "right", "title": null, "labels": false, "values": [0,5,10,15], "offset": -5, "tickSize": 5}}
    }},
   {"data": {"name": "b3"}, "mark": {"type": "line", "opacity": 0},
    "encoding": {
     "x": {"field": "t", "type": "quantitative", "scale": {"domain": [0, 1], "nice": false, "zero": false}, "axis": {"orient": "bottom", "title": null, "labels": false, "values": [0.05,0.1,0.15,0.25,0.3,0.35,0.45,0.5,0.55,0.65,0.7,0.75,0.85,0.9,0.95], "offset": -2.5, "tickSize": 2.5}},
     "y": {"field": "v", "type": "quantitative", "scale": {"domain": [-2.05, 16.15], "nice": false, "zero": false}, "axis": {"orient": "left", "title": null, "labels": false, "values": [-2,-1,1,2,3,4,6,7,8,9,11,12,13,14,16], "offset": -2.5, "tickSize": 2.5}}
    }},
   {"data": {"name": "b3"}, "mark": {"type": "line", "opacity": 0},
    "encoding": {
     "x": {"field": "t", "type": "quantitative", "scale": {"domain": [0, 1], "nice": false, "zero": false}, "axis": {"orient": "top", "title": null, "labels": false, "values": [0.05,0.1,0.15,0.25,0.3,0.35,0.45,0.5,0.55,0.65,0.7,0.75,0.85,0.9,0.95], "offset": -2.5, "tickSize": 2.5}},
     "y": {"field": "v", "type": "quantitative", "scale": {"domain": [-2.05, 16.15], "nice": false, "zero": false}, "axis": {"orient": "right", "title": null, "labels": false, "values": [-2,-1,1,2,3,4,6,7,8,9,11,12,13,14,16], "offset": -2.5, "tickSize": 2.5}}
    }},
   {"data": {"name": "lg"}, "mark": {"type": "point", "filled": true, "size": 0},
    "encoding": {"fill": {"field": "n", "type": "quantitative", "scale": {"type": "threshold", "domain": [4,24,44,64,84], "range": ["#000000","#3e1a5b","#c2434f","#fb7a12","#ffb83a","#fff0c4"]}, "legend": {"title": "n", "legendX": 345, "legendY": 54}}}}
  ],
  "resolve": {"axis": {"x": "independent", "y": "independent"}}
 },
 {
  "width": 334, "height": 204,
  "title": "Probability p₁[t] (α=1, p₁[t_f]=0.8, t_f=1)",
  "layer": [
   {"data": {"name": "h1"}, "mark": {"type": "rule", "color": "#606060", "strokeWidth": 1.6}, "encoding": {"y": {"field": "v", "type": "quantitative", "axis": null}}},
   {"data": {"name": "p4"}, "mark": {"type": "line", "clip": true, "strokeWidth": 1.2, "interpolate": "monotone"},
    "encoding": {
     "x": {"field": "t", "type": "quantitative", "scale": {"domain": [-0.02, 1.02], "nice": false, "zero": false}, "axis": {"orient": "bottom", "title": "t", "values": [0,0.2,0.4,0.6,0.8,1], "format": ".1f", "offset": -5, "tickSize": 5, "labelPadding": 3}},
     "y": {"field": "v", "type": "quantitative", "scale": {"domain": [-0.033, 0.842], "nice": false, "zero": false}, "axis": {"orient": "left", "title": "p", "values": [0,0.2,0.4,0.6,0.8], "format": ".1f", "offset": -5, "tickSize": 5, "labelPadding": 4}},
     "stroke": {"field": "n", "type": "ordinal", "scale": {"domain": [4,14,24,34,44,54,64,74,84,94], "range": ["#3b1a5c","#6a2678","#993270","#c2405a","#dd5540","#ef6d25","#f98c1c","#fdab38","#fec866","#ffe3a3"]}, "legend": null}
    }},
   {"data": {"name": "b1"}, "mark": {"type": "line", "clip": true, "color": "#000000", "strokeWidth": 1.4},
    "encoding": {
     "x": {"field": "t", "type": "quantitative", "scale": {"domain": [-0.02, 1.02], "nice": false, "zero": false}, "axis": {"orient": "top", "title": null, "labels": false, "values": [0,0.2,0.4,0.6,0.8,1], "offset": -5, "tickSize": 5}},
     "y": {"field": "v", "type": "quantitative", "scale": {"domain": [-0.033, 0.842], "nice": false, "zero": false}, "axis": {"orient": "right", "title": null, "labels": false, "values": [0,0.2,0.4,0.6,0.8], "offset": -5, "tickSize": 5}}
    }},
   {"data": {"name": "b1"}, "mark": {"type": "line", "opacity": 0},
    "encoding": {
     "x": {"field": "t", "type": "quantitative", "scale": {"domain": [-0.02, 1.02], "nice": false, "zero": false}, "axis": {"orient": "bottom", "title": null, "labels": false, "values": [0.05,0.1,0.15,0.25,0.3,0.35,0.45,0.5,0.55,0.65,0.7,0.75,0.85,0.9,0.95], "offset": -2.5, "tickSize": 2.5}},
     "y": {"field": "v", "type": "quantitative", "scale": {"domain": [-0.033, 0.842], "nice": false, "zero": false}, "axis": {"orient": "left", "title": null, "labels": false, "values": [0.05,0.1,0.15,0.25,0.3,0.35,0.45,0.5,0.55,0.65,0.7,0.75], "offset": -2.5, "tickSize": 2.5}}
    }},
   {"data": {"name": "b1"}, "mark": {"type": "line", "opacity": 0},
    "encoding": {
     "x": {"field": "t", "type": "quantitative", "scale": {"domain": [-0.02, 1.02], "nice": false, "zero": false}, "axis": {"orient": "top", "title": null, "labels": false, "values": [0.05,0.1,0.15,0.25,0.3,0.35,0.45,0.5,0.55,0.65,0.7,0.75,0.85,0.9,0.95], "offset": -2.5, "tickSize": 2.5}},
     "y": {"field": "v", "type": "quantitative", "scale": {"domain": [-0.033, 0.842], "nice": false, "zero": false}, "axis": {"orient": "right", "title": null, "labels": false, "values": [0.05,0.1,0.15,0.25,0.3,0.35,0.45,0.5,0.55,0.65,0.7,0.75], "offset": -2.5, "tickSize": 2.5}}
    }},
   {"data": {"name": "lg"}, "mark": {"type": "point", "filled": true, "size": 0},
    "encoding": {"fill": {"field": "n", "type": "quantitative", "scale": {"type": "threshold", "domain": [4,24,44,64,84], "range": ["#000000","#3e1a5b","#c2434f","#fb7a12","#ffb83a","#fff0c4"]}, "legend": {"title": "n", "legendX": 342, "legendY": 54}}}}
  ],
  "resolve": {"axis": {"x": "independent", "y": "independent"}}
 },
 {
  "width": 329, "height": 204,
  "title": "Corrector Control Inputs (α=1, p[t_f] = 0.8, t_f=1)",
  "layer": [
   {"data": {"name": "h0"}, "mark": {"type": "rule", "color": "#000000", "strokeWidth": 1}, "encoding": {"y": {"field": "v", "type": "quantitative", "axis": null}}},
   {"data": {"name": "p5"}, "mark": {"type": "line", "clip": true, "strokeWidth": 1.2, "interpolate": "monotone"},
    "encoding": {
     "x": {"field": "t", "type": "quantitative", "scale": {"domain": [0, 1], "nice": false, "zero": false}, "axis": {"orient": "bottom", "title": "t", "values": [0,0.2,0.4,0.6,0.8,1], "format": ".1f", "offset": -5, "tickSize": 5, "labelPadding": 3}},
     "y": {"field": "v", "type": "quantitative", "scale": {"domain": [-2.05, 16.15], "nice": false, "zero": false}, "axis": {"orient": "left", "title": "η", "values": [0,5,10,15], "format": "d", "offset": -5, "tickSize": 5, "labelPadding": 4}},
     "stroke": {"field": "n", "type": "ordinal", "scale": {"domain": [4,14,24,34,44,54,64,74,84,94], "range": ["#3b1a5c","#6a2678","#993270","#c2405a","#dd5540","#ef6d25","#f98c1c","#fdab38","#fec866","#ffe3a3"]}, "legend": null}
    }},
   {"data": {"name": "b5"}, "mark": {"type": "line", "clip": true, "color": "#000000", "strokeWidth": 1.4, "interpolate": "monotone"},
    "encoding": {
     "x": {"field": "t", "type": "quantitative", "scale": {"domain": [0, 1], "nice": false, "zero": false}, "axis": {"orient": "top", "title": null, "labels": false, "values": [0,0.2,0.4,0.6,0.8,1], "offset": -5, "tickSize": 5}},
     "y": {"field": "v", "type": "quantitative", "scale": {"domain": [-2.05, 16.15], "nice": false, "zero": false}, "axis": {"orient": "right", "title": null, "labels": false, "values": [0,5,10,15], "offset": -5, "tickSize": 5}}
    }},
   {"data": {"name": "b5"}, "mark": {"type": "line", "opacity": 0},
    "encoding": {
     "x": {"field": "t", "type": "quantitative", "scale": {"domain": [0, 1], "nice": false, "zero": false}, "axis": {"orient": "bottom", "title": null, "labels": false, "values": [0.05,0.1,0.15,0.25,0.3,0.35,0.45,0.5,0.55,0.65,0.7,0.75,0.85,0.9,0.95], "offset": -2.5, "tickSize": 2.5}},
     "y": {"field": "v", "type": "quantitative", "scale": {"domain": [-2.05, 16.15], "nice": false, "zero": false}, "axis": {"orient": "left", "title": null, "labels": false, "values": [-2,-1,1,2,3,4,6,7,8,9,11,12,13,14,16], "offset": -2.5, "tickSize": 2.5}}
    }},
   {"data": {"name": "b5"}, "mark": {"type": "line", "opacity": 0},
    "encoding": {
     "x": {"field": "t", "type": "quantitative", "scale": {"domain": [0, 1], "nice": false, "zero": false}, "axis": {"orient": "top", "title": null, "labels": false, "values": [0.05,0.1,0.15,0.25,0.3,0.35,0.45,0.5,0.55,0.65,0.7,0.75,0.85,0.9,0.95], "offset": -2.5, "tickSize": 2.5}},
     "y": {"field": "v", "type": "quantitative", "scale": {"domain": [-2.05, 16.15], "nice": false, "zero": false}, "axis": {"orient": "right", "title": null, "labels": false, "values": [-2,-1,1,2,3,4,6,7,8,9,11,12,13,14,16], "offset": -2.5, "tickSize": 2.5}}
    }},
   {"data": {"name": "lg"}, "mark": {"type": "point", "filled": true, "size": 0},
    "encoding": {"fill": {"field": "n", "type": "quantitative", "scale": {"type": "threshold", "domain": [4,24,44,64,84], "range": ["#000000","#3e1a5b","#c2434f","#fb7a12","#ffb83a","#fff0c4"]}, "legend": {"title": "n", "legendX": 345, "legendY": 54}}}}
  ],
  "resolve": {"axis": {"x": "independent", "y": "independent"}}
 },
 {
  "width": 329, "height": 204,
  "title": "Corrector Control Inputs (α=−1, p[t_f] = 0.8, t_f=1)",
  "layer": [
   {"data": {"name": "h0"}, "mark": {"type": "rule", "color": "#000000", "strokeWidth": 1}, "encoding": {"y": {"field": "v", "type": "quantitative", "axis": null}}},
   {"data": {"name": "p6"}, "mark": {"type": "line", "clip": true, "strokeWidth": 1.2, "interpolate": "monotone"},
    "encoding": {
     "x": {"field": "t", "type": "quantitative", "scale": {"domain": [0, 1], "nice": false, "zero": false}, "axis": {"orient": "bottom", "title": "t", "values": [0,0.2,0.4,0.6,0.8,1], "format": ".1f", "offset": -5, "tickSize": 5, "labelPadding": 3}},
     "y": {"field": "v", "type": "quantitative", "scale": {"domain": [-2.05, 16.15], "nice": false, "zero": false}, "axis": {"orient": "left", "title": "η", "values": [0,5,10,15], "format": "d", "offset": -5, "tickSize": 5, "labelPadding": 4}},
     "stroke": {"field": "n", "type": "ordinal", "scale": {"domain": [4,14,24,34,44,54,64,74,84,94], "range": ["#3b1a5c","#6a2678","#993270","#c2405a","#dd5540","#ef6d25","#f98c1c","#fdab38","#fec866","#ffe3a3"]}, "legend": null}
    }},
   {"data": {"name": "b6"}, "mark": {"type": "line", "clip": true, "color": "#000000", "strokeWidth": 1.4, "interpolate": "monotone"},
    "encoding": {
     "x": {"field": "t", "type": "quantitative", "scale": {"domain": [0, 1], "nice": false, "zero": false}, "axis": {"orient": "top", "title": null, "labels": false, "values": [0,0.2,0.4,0.6,0.8,1], "offset": -5, "tickSize": 5}},
     "y": {"field": "v", "type": "quantitative", "scale": {"domain": [-2.05, 16.15], "nice": false, "zero": false}, "axis": {"orient": "right", "title": null, "labels": false, "values": [0,5,10,15], "offset": -5, "tickSize": 5}}
    }},
   {"data": {"name": "b6"}, "mark": {"type": "line", "opacity": 0},
    "encoding": {
     "x": {"field": "t", "type": "quantitative", "scale": {"domain": [0, 1], "nice": false, "zero": false}, "axis": {"orient": "bottom", "title": null, "labels": false, "values": [0.05,0.1,0.15,0.25,0.3,0.35,0.45,0.5,0.55,0.65,0.7,0.75,0.85,0.9,0.95], "offset": -2.5, "tickSize": 2.5}},
     "y": {"field": "v", "type": "quantitative", "scale": {"domain": [-2.05, 16.15], "nice": false, "zero": false}, "axis": {"orient": "left", "title": null, "labels": false, "values": [-2,-1,1,2,3,4,6,7,8,9,11,12,13,14,16], "offset": -2.5, "tickSize": 2.5}}
    }},
   {"data": {"name": "b6"}, "mark": {"type": "line", "opacity": 0},
    "encoding": {
     "x": {"field": "t", "type": "quantitative", "scale": {"domain": [0, 1], "nice": false, "zero": false}, "axis": {"orient": "top", "title": null, "labels": false, "values": [0.05,0.1,0.15,0.25,0.3,0.35,0.45,0.5,0.55,0.65,0.7,0.75,0.85,0.9,0.95], "offset": -2.5, "tickSize": 2.5}},
     "y": {"field": "v", "type": "quantitative", "scale": {"domain": [-2.05, 16.15], "nice": false, "zero": false}, "axis": {"orient": "right", "title": null, "labels": false, "values": [-2,-1,1,2,3,4,6,7,8,9,11,12,13,14,16], "offset": -2.5, "tickSize": 2.5}}
    }},
   {"data": {"name": "lg"}, "mark": {"type": "point", "filled": true, "size": 0},
    "encoding": {"fill": {"field": "n", "type": "quantitative", "scale": {"type": "threshold", "domain": [4,24,44,64,84], "range": ["#000000","#3e1a5b","#c2434f","#fb7a12","#ffb83a","#fff0c4"]}, "legend": {"title": "n", "legendX": 345, "legendY": 54}}}}
  ],
  "resolve": {"axis": {"x": "independent", "y": "independent"}}
 }
]
}
